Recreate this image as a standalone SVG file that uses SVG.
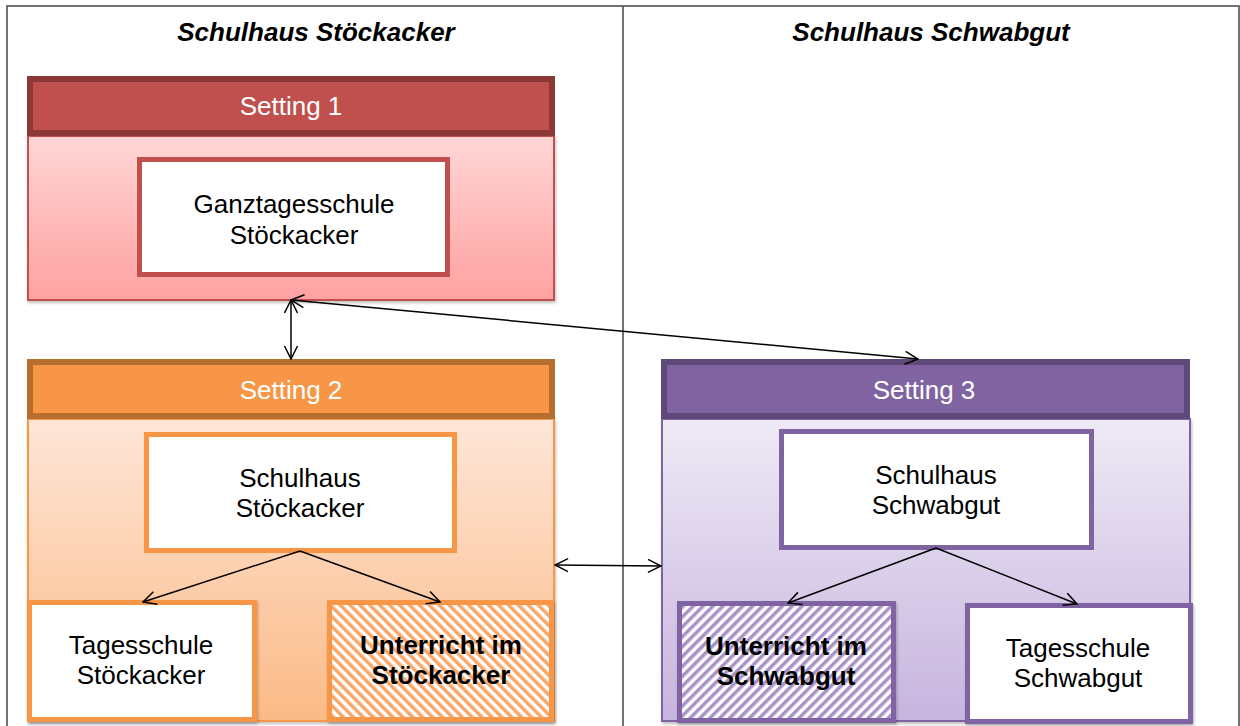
<svg xmlns="http://www.w3.org/2000/svg" width="1240" height="726" viewBox="0 0 1240 726">
<style>
text{font-family:"Liberation Sans",Arial,sans-serif;text-anchor:middle;}
.title{font-size:26px;font-weight:bold;font-style:italic;fill:#000;}
.hdr{font-size:26px;fill:#fff;}
.lbl{font-size:26px;fill:#000;}
.bold{font-size:26px;font-weight:bold;fill:#000;}
.frame{fill:none;stroke:#444;stroke-width:1.5;}
.conn{fill:none;stroke:#000;stroke-width:1.5;marker-end:url(#arr);}
.conn2{fill:none;stroke:#000;stroke-width:1.5;marker-start:url(#arr);marker-end:url(#arr);}
.inR{fill:#fff;stroke:#C0504D;stroke-width:5;}
.inO{fill:#fff;stroke:#F79646;stroke-width:5;}
.inP{fill:#fff;stroke:#8064A2;stroke-width:5;}
</style>
<defs>
<marker id="arr" viewBox="0 0 16 16" refX="15" refY="8" markerWidth="16" markerHeight="16" markerUnits="userSpaceOnUse" orient="auto-start-reverse">
<path d="M2,1.5 L15,8 L2,14.5" fill="none" stroke="#000" stroke-width="1.5"/>
</marker>
<linearGradient id="gR" x1="0" y1="0" x2="0" y2="1"><stop offset="0" stop-color="#FFD6D6"/><stop offset="1" stop-color="#FFA1A1"/></linearGradient>
<linearGradient id="gO" x1="0" y1="0" x2="0" y2="1"><stop offset="0" stop-color="#FEE6D8"/><stop offset="1" stop-color="#FBBA86"/></linearGradient>
<linearGradient id="gP" x1="0" y1="0" x2="0" y2="1"><stop offset="0" stop-color="#EFEAF6"/><stop offset="1" stop-color="#C6B4DE"/></linearGradient>
<pattern id="hO" width="7" height="7" patternUnits="userSpaceOnUse" patternTransform="rotate(-45)">
<rect width="7" height="7" fill="#fff"/><rect width="3.5" height="7" fill="#F9A769"/>
</pattern>
<pattern id="hP" width="7" height="7" patternUnits="userSpaceOnUse" patternTransform="rotate(45)">
<rect width="7" height="7" fill="#fff"/><rect width="3.5" height="7" fill="#A892C8"/>
</pattern>
<filter id="sh" x="-5%" y="-5%" width="110%" height="115%">
<feDropShadow dx="1" dy="2" stdDeviation="1.5" flood-color="#000" flood-opacity="0.25"/>
</filter>
</defs>

<g id="frame">
<rect class="frame" x="7" y="6" width="1232" height="730"/>
<line class="frame" x1="623" y1="6" x2="623" y2="726"/>
</g>

<g id="titles">
<text class="title" x="316" y="41">Schulhaus Stöckacker</text>
<text class="title" x="931" y="41">Schulhaus Schwabgut</text>
</g>

<g id="setting1">
<rect x="28" y="136" width="526" height="164" fill="url(#gR)" stroke="#C0504D" stroke-width="2" filter="url(#sh)"/>
<rect x="30" y="79" width="522" height="54" fill="#C0504D" stroke="#8C3836" stroke-width="6"/>
<text class="hdr" x="291" y="115">Setting 1</text>
</g>

<g id="ganztagesschule">
<rect class="inR" x="139.5" y="159.5" width="308" height="115"/>
<text class="lbl" x="294" y="213">Ganztagesschule</text>
<text class="lbl" x="294" y="244">Stöckacker</text>
</g>

<g id="setting2">
<rect x="28" y="419" width="526" height="302" fill="url(#gO)" stroke="#F79646" stroke-width="2" filter="url(#sh)"/>
<rect x="30" y="362" width="522" height="54" fill="#F79646" stroke="#B86E2F" stroke-width="6"/>
<text class="hdr" x="291" y="399">Setting 2</text>
</g>

<g id="schulhaus-stoeckacker">
<rect class="inO" x="146.5" y="434.5" width="308" height="116"/>
<text class="lbl" x="300" y="487">Schulhaus</text>
<text class="lbl" x="300" y="517">Stöckacker</text>
</g>

<g id="tagesschule-stoeckacker">
<rect class="inO" x="29.5" y="602.5" width="225" height="117" filter="url(#sh)"/>
<text class="lbl" x="141" y="654">Tagesschule</text>
<text class="lbl" x="141" y="684">Stöckacker</text>
</g>

<g id="unterricht-stoeckacker">
<rect x="329.5" y="602.5" width="222" height="117" fill="url(#hO)" stroke="#F79646" stroke-width="5" filter="url(#sh)"/>
<text class="bold" x="441" y="654">Unterricht im</text>
<text class="bold" x="441" y="684">Stöckacker</text>
</g>

<g id="setting3">
<rect x="662" y="419" width="528" height="302" fill="url(#gP)" stroke="#8064A2" stroke-width="2" filter="url(#sh)"/>
<rect x="664" y="362" width="523" height="54" fill="#8064A2" stroke="#5F497A" stroke-width="6"/>
<text class="hdr" x="924" y="399">Setting 3</text>
</g>

<g id="schulhaus-schwabgut">
<rect class="inP" x="781.5" y="431.5" width="310" height="116"/>
<text class="lbl" x="936" y="484">Schulhaus</text>
<text class="lbl" x="936" y="514">Schwabgut</text>
</g>

<g id="unterricht-schwabgut">
<rect x="679.5" y="603.5" width="214" height="117" fill="url(#hP)" stroke="#8064A2" stroke-width="5" filter="url(#sh)"/>
<text class="bold" x="786" y="655">Unterricht im</text>
<text class="bold" x="786" y="685">Schwabgut</text>
</g>

<g id="tagesschule-schwabgut">
<rect class="inP" x="967.5" y="605.5" width="223" height="116" filter="url(#sh)"/>
<text class="lbl" x="1078" y="657">Tagesschule</text>
<text class="lbl" x="1078" y="687">Schwabgut</text>
</g>

<g id="connectors">
<line class="conn2" x1="291" y1="300" x2="291" y2="359"/>
<line class="conn2" x1="291" y1="300" x2="918" y2="359"/>
<line class="conn2" x1="555" y1="565" x2="661" y2="566"/>
<line class="conn" x1="300" y1="551" x2="143" y2="602"/>
<line class="conn" x1="300" y1="551" x2="440" y2="602"/>
<line class="conn" x1="936" y1="548" x2="788" y2="603"/>
<line class="conn" x1="936" y1="548" x2="1077" y2="604"/>
</g>
</svg>
